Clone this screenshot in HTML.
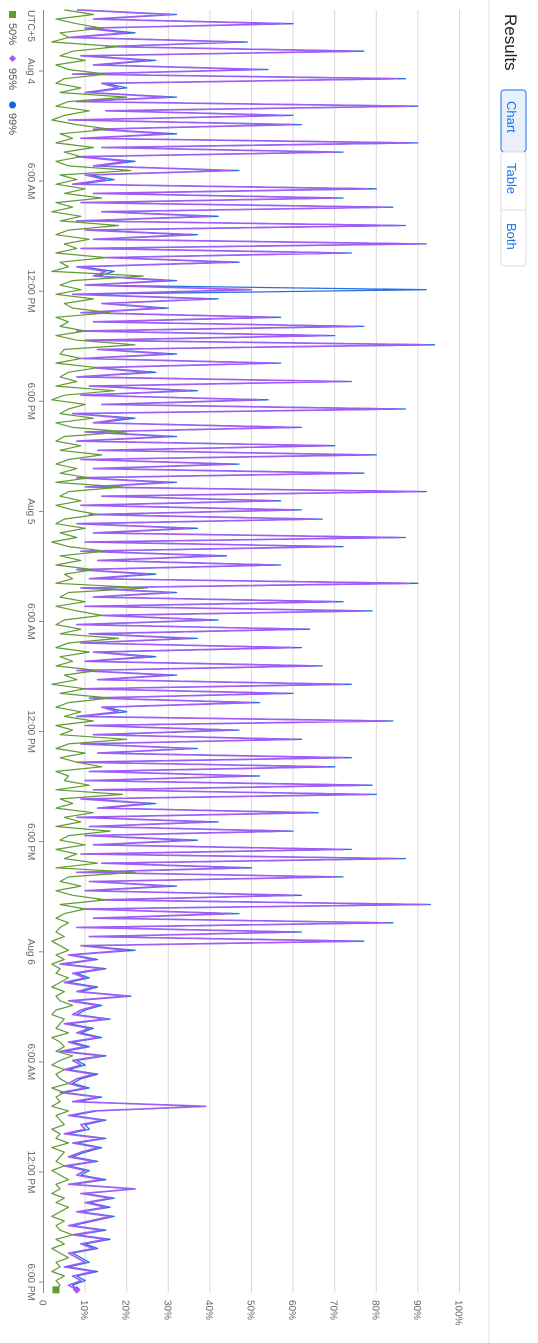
<!DOCTYPE html>
<html><head><meta charset="utf-8">
<style>
html,body{margin:0;padding:0;background:#fff;}
svg{display:block;font-family:"Liberation Sans",sans-serif;}
</style></head>
<body>
<svg id="chart" width="538" height="1343" viewBox="0 0 538 1343">
  <line x1="489" y1="0" x2="489" y2="1343" stroke="#e2e2e2"/>
  <text transform="translate(505,14) rotate(90)" font-size="17" fill="#222">Results</text>
  <g>
    <rect x="501" y="90" width="25" height="62" rx="3" fill="#e8f0fc" stroke="#1a73e8"/>
    <text transform="translate(507,101) rotate(90)" font-size="13" fill="#1a73e8">Chart</text>
    <rect x="501" y="152" width="25" height="114" rx="3" fill="none" stroke="#ddd"/>
    <line x1="501" y1="210" x2="526" y2="210" stroke="#ddd"/>
    <text transform="translate(507,163) rotate(90)" font-size="13" fill="#1a73e8">Table</text>
    <text transform="translate(507,223) rotate(90)" font-size="13" fill="#1a73e8">Both</text>
  </g>
  <g id="grid"></g>
  <g id="axes"></g>
  <g id="series"></g>
  <g>
    <rect x="9" y="11" width="7" height="7" fill="#5f9a32"/>
    <text transform="translate(9,23) rotate(90)" font-size="11" fill="#555">50%</text>
    <path d="M12.5,55 L16,58.5 L12.5,62 L9,58.5Z" fill="#a855f7"/>
    <text transform="translate(9,68) rotate(90)" font-size="11" fill="#555">95%</text>
    <circle cx="12.5" cy="105" r="3.5" fill="#1565d8"/>
    <text transform="translate(9,113) rotate(90)" font-size="11" fill="#555">99%</text>
    <text transform="translate(28,10) rotate(90)" font-size="10" fill="#666">UTC+5</text>
  </g>
</svg>
<script>
const timeTicks = [0, 6, 12, 18, 24, 30, 36, 42, 48, 54, 60, 66];
const timeTickLabels = ["Aug 4","6:00 AM","12:00 PM","6:00 PM","Aug 5","6:00 AM","12:00 PM","6:00 PM","Aug 6","6:00 AM","12:00 PM","6:00 PM"];
const valueTicks = [0,10,20,30,40,50,60,70,80,90,100];
const valueTickLabels = ["0","10%","20%","30%","40%","50%","60%","70%","80%","90%","100%"];
const startHour = -3.33;
const stepHours = 0.25;
const p50 = [
5,12,3,8,14,4,6,2,18,7,4,10,3,6,15,5,3,9,4,20,
6,3,11,5,2,8,16,4,7,3,12,5,9,3,6,21,4,8,3,10,
5,14,3,7,2,9,4,18,6,3,11,5,8,3,15,4,6,2,24,7,
4,9,3,12,5,7,16,3,6,4,10,3,8,22,5,4,9,3,13,6,
4,8,3,17,5,2,10,6,4,12,3,7,20,5,3,9,4,14,6,3,
8,4,11,3,19,6,4,9,3,7,13,5,3,10,4,8,2,6,15,4,
9,3,12,5,7,3,25,6,4,10,3,8,14,5,3,9,4,18,6,3,
11,4,7,3,13,5,8,2,10,4,16,6,3,9,5,12,3,7,4,20,
6,3,10,4,8,14,3,6,5,11,3,19,4,7,3,12,5,9,3,16,
6,4,10,3,8,5,13,3,22,6,4,9,3,7,15,4,10,5,3,6,
4,3,5,2,4,6,3,5,2,4,3,6,4,2,5,3,4,7,3,2,
5,4,3,6,2,4,5,3,7,4,2,5,3,4,6,2,5,3,4,2,
6,3,4,5,2,4,3,6,2,5,4,3,5,2,4,6,3,4,2,5,
3,6,4,2,5,3,4,7,3,5,2,4,6,3,4,2,5,3,4,3];
const p95 = [
8,30,12,58,10,20,6,47,15,75,9,25,12,52,7,85,14,18,10,30,
8,88,15,58,6,60,12,30,9,88,14,70,8,20,12,45,10,15,7,78,
12,70,9,82,14,40,8,85,10,35,12,90,9,72,15,45,8,15,12,30,
10,50,7,40,14,28,9,55,12,75,8,68,10,92,13,30,9,55,12,25,
8,72,11,35,9,52,14,85,7,20,12,60,10,30,8,68,13,78,9,45,
12,75,8,30,10,90,14,55,9,60,11,65,8,35,12,85,10,70,9,42,
13,55,8,25,11,88,9,30,12,70,10,77,14,40,8,62,11,35,9,60,
12,25,10,65,8,30,13,72,9,58,11,50,14,18,8,82,10,45,12,60,
9,35,13,72,8,68,11,50,10,77,12,78,9,25,13,64,8,40,11,58,
10,35,12,72,9,85,14,48,8,70,11,30,10,60,13,92,9,45,12,82,
8,60,11,75,9,20,6,12,4,14,7,10,5,12,8,20,6,13,9,7,
15,5,11,8,13,6,10,4,14,7,9,5,12,8,6,10,4,13,7,39,
12,6,14,9,10,5,14,7,13,9,6,12,5,10,8,14,6,22,9,16,
10,15,8,16,11,6,14,7,15,9,12,6,8,10,5,12,7,9,6,8];
const p99 = [
9,32,13,60,11,22,7,49,16,77,10,27,13,54,8,87,15,20,11,32,
9,90,16,60,7,62,13,32,10,90,15,72,9,22,13,47,11,17,8,80,
13,72,10,84,15,42,9,87,11,37,13,92,10,74,16,47,9,17,13,32,
11,92,8,42,15,30,10,57,13,77,9,70,11,94,14,32,10,57,13,27,
9,74,12,37,10,54,15,87,8,22,13,62,11,32,9,70,14,80,10,47,
13,77,9,32,11,92,15,57,10,62,12,67,9,37,13,87,11,72,10,44,
14,57,9,27,12,90,10,32,13,72,11,79,15,42,9,64,12,37,10,62,
13,27,11,67,9,32,14,74,10,60,12,52,15,20,9,84,11,47,13,62,
10,37,14,74,9,70,12,52,11,79,13,80,10,27,14,66,9,42,12,60,
11,37,13,74,10,87,15,50,9,72,12,32,11,62,14,93,10,47,13,84,
9,62,12,77,10,22,7,13,5,15,8,11,6,13,9,21,7,14,10,8,
16,6,12,9,14,7,11,5,15,8,10,6,13,9,7,11,5,14,8,39,
13,7,15,10,11,6,15,8,14,10,7,13,6,11,9,15,7,22,10,17,
11,16,9,17,12,7,15,8,16,10,13,7,9,11,6,13,8,10,7,8];

function xOf(v){ return 43.5 + v * 4.16; }
function yOf(h){ return 71 + h * 18.35; }
const NS = "http://www.w3.org/2000/svg";
const grid = document.getElementById('grid');
const axes = document.getElementById('axes');
const series = document.getElementById('series');

valueTicks.forEach((v, i) => {
  if (v > 0) {
    const l = document.createElementNS(NS, 'line');
    l.setAttribute('x1', xOf(v)); l.setAttribute('x2', xOf(v));
    l.setAttribute('y1', 10); l.setAttribute('y2', 1293);
    l.setAttribute('stroke', '#d8d8d8');
    
    
    grid.appendChild(l);
  }
  const t = document.createElementNS(NS, 'text');
  t.setAttribute('transform', 'translate(' + (xOf(v) - 4) + ',1300) rotate(90)');
  t.setAttribute('font-size', '10');
  t.setAttribute('fill', '#666');
  t.textContent = valueTickLabels[i];
  
  
  axes.appendChild(t);
});

const axisLine = document.createElementNS(NS, 'line');
axisLine.setAttribute('x1', 43.5); axisLine.setAttribute('x2', 43.5);
axisLine.setAttribute('y1', 10); axisLine.setAttribute('y2', 1293);
axisLine.setAttribute('stroke', '#888');


axes.appendChild(axisLine);

timeTicks.forEach((h, i) => {
  const y = yOf(h);
  const tk = document.createElementNS(NS, 'line');
  tk.setAttribute('x1', 39); tk.setAttribute('x2', 43.5);
  tk.setAttribute('y1', y); tk.setAttribute('y2', y);
  tk.setAttribute('stroke', '#888');
  
  
  axes.appendChild(tk);
  const t = document.createElementNS(NS, 'text');
  t.setAttribute('transform', 'translate(28,' + y + ') rotate(90)');
  t.setAttribute('font-size', '10');
  t.setAttribute('fill', '#666');
  t.setAttribute('text-anchor', 'middle');
  t.textContent = timeTickLabels[i];
  
  
  axes.appendChild(t);
});

function drawSeries(vals, color, width, name) {
  const pts = vals.map((v, i) => xOf(v).toFixed(1) + ',' + yOf(startHour + i * stepHours).toFixed(1)).join(' ');
  const pl = document.createElementNS(NS, 'polyline');
  pl.setAttribute('points', pts);
  pl.setAttribute('fill', 'none');
  pl.setAttribute('stroke', color);
  pl.setAttribute('stroke-width', width);
  pl.setAttribute('stroke-linejoin', 'round');
  
  
  series.appendChild(pl);
}
drawSeries(p99, '#2a6fe0', 1.3, 'series-99');
drawSeries(p95, '#a05cf5', 1.6, 'series-95');
drawSeries(p50, '#5f9a32', 1.2, 'series-50');

const lastY = yOf(startHour + (p50.length - 1) * stepHours);
const sq = document.createElementNS(NS, 'rect');
sq.setAttribute('x', xOf(p50[p50.length - 1]) - 3.5); sq.setAttribute('y', lastY - 3.5);
sq.setAttribute('width', 7); sq.setAttribute('height', 7); sq.setAttribute('fill', '#5f9a32');


series.appendChild(sq);
const dx = xOf(p95[p95.length - 1]);
const dm = document.createElementNS(NS, 'path');
dm.setAttribute('d', 'M' + dx + ',' + (lastY - 4) + ' L' + (dx + 4) + ',' + lastY + ' L' + dx + ',' + (lastY + 4) + ' L' + (dx - 4) + ',' + lastY + 'Z');
dm.setAttribute('fill', '#a855f7');


series.appendChild(dm);
</script>
</body></html>
